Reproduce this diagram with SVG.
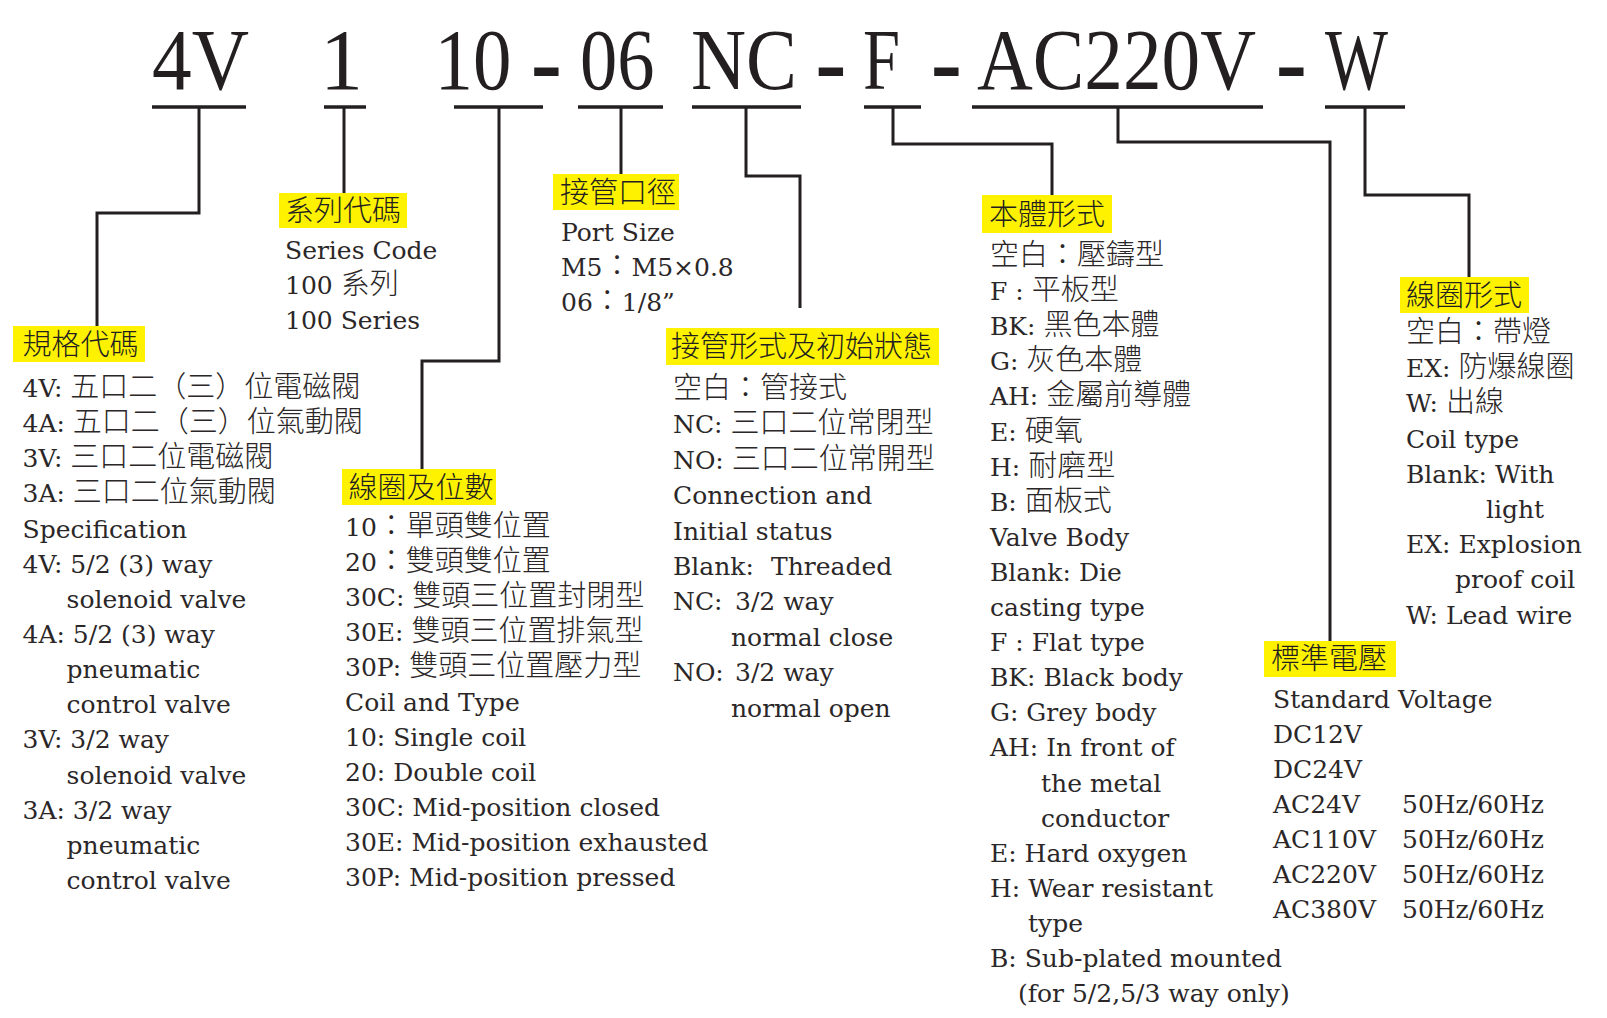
<svg xmlns="http://www.w3.org/2000/svg" width="1607" height="1018" viewBox="0 0 1607 1018">
<style>
.bg{fill:#ffffff}
.ttl{font-family:"Liberation Serif","Times New Roman",serif;font-size:86px;fill:#231f20}
.dash{font-family:"Liberation Serif","Times New Roman",serif;font-size:86px;fill:#231f20;stroke:#231f20;stroke-width:2}
.t{font-family:"DejaVu Serif","Noto Sans CJK TC",serif;font-size:25px;fill:#2b2728}
.c{font-family:"Noto Sans CJK TC","Noto Sans CJK SC",sans-serif;font-size:29px;font-weight:300}
.lbl{font-family:"Noto Sans CJK TC","Noto Sans CJK SC",sans-serif;font-size:29px;font-weight:300;fill:#231f20}
.hl{fill:#fff200}
.ln{fill:none;stroke:#231f20;stroke-width:3}
.ul{fill:none;stroke:#231f20;stroke-width:3.5}
</style>
<rect class="bg" x="0" y="0" width="1607" height="1018"/>

<g id="title">
<text class="ttl" transform="translate(152 89) scale(0.923 1)">4V</text>
<text class="ttl" x="320" y="89">1</text>
<text class="ttl" transform="translate(434.5 89) scale(0.895 1)">10</text>
<text class="dash" x="532" y="92">-</text>
<text class="ttl" transform="translate(580 89) scale(0.866 1)">06</text>
<text class="ttl" transform="translate(691 89) scale(0.887 1)">NC</text>
<text class="dash" x="816.5" y="92">-</text>
<text class="ttl" transform="translate(863 89) scale(0.774 1)">F</text>
<text class="dash" x="932" y="92">-</text>
<text class="ttl" transform="translate(977 89) scale(0.8985 1)">AC220V</text>
<text class="dash" x="1277" y="92">-</text>
<text class="ttl" transform="translate(1325 89) scale(0.776 1)">W</text>
</g>

<g id="connectors">
<line class="ul" x1="152" y1="107" x2="246" y2="107"/>
<line class="ul" x1="324" y1="107" x2="366" y2="107"/>
<line class="ul" x1="454" y1="107" x2="543" y2="107"/>
<line class="ul" x1="578" y1="107" x2="663" y2="107"/>
<line class="ul" x1="692" y1="107" x2="801" y2="107"/>
<line class="ul" x1="864" y1="107" x2="921" y2="107"/>
<line class="ul" x1="972" y1="107" x2="1263" y2="107"/>
<line class="ul" x1="1325" y1="107" x2="1405" y2="107"/>
<path class="ln" d="M199 107 V213 H97 V327"/>
<path class="ln" d="M344 107 V193"/>
<path class="ln" d="M499 107 V361 H422 V470"/>
<path class="ln" d="M621 107 V174"/>
<path class="ln" d="M746 107 V176 H800 V308"/>
<path class="ln" d="M893 107 V144 H1052 V196"/>
<path class="ln" d="M1118 107 V142 H1330 V641"/>
<path class="ln" d="M1365 107 V195 H1469 V277"/>
</g>

<g id="spec">
<rect class="hl" x="13" y="326" width="132" height="36"/>
<text class="lbl" x="22.5" y="355">規格代碼</text>
<text class="t" x="22.5" y="397">4V: <tspan class="c">五口二（三）位電磁閥</tspan></text>
<text class="t" x="22.5" y="432.1">4A: <tspan class="c">五口二（三）位氣動閥</tspan></text>
<text class="t" x="22.5" y="467.3">3V: <tspan class="c">三口二位電磁閥</tspan></text>
<text class="t" x="22.5" y="502.4">3A: <tspan class="c">三口二位氣動閥</tspan></text>
<text class="t" x="22.5" y="537.6">Specification</text>
<text class="t" x="22.5" y="572.7">4V: 5/2 (3) way</text>
<text class="t" x="66.6" y="607.8">solenoid valve</text>
<text class="t" x="22.5" y="643">4A: 5/2 (3) way</text>
<text class="t" x="66.6" y="678.1">pneumatic</text>
<text class="t" x="66.6" y="713.3">control valve</text>
<text class="t" x="22.5" y="748.4">3V: 3/2 way</text>
<text class="t" x="66.6" y="783.5">solenoid valve</text>
<text class="t" x="22.5" y="818.7">3A: 3/2 way</text>
<text class="t" x="66.6" y="853.8">pneumatic</text>
<text class="t" x="66.6" y="889">control valve</text>
</g>

<g id="series">
<rect class="hl" x="279" y="193" width="128" height="35"/>
<text class="lbl" x="285" y="221">系列代碼</text>
<text class="t" x="285" y="259">Series Code</text>
<text class="t" x="285" y="294">100 <tspan class="c">系列</tspan></text>
<text class="t" x="285" y="329">100 Series</text>
</g>

<g id="port">
<rect class="hl" x="553" y="174" width="126" height="36"/>
<text class="lbl" x="560" y="203">接管口徑</text>
<text class="t" x="561" y="241">Port Size</text>
<text class="t" x="561" y="276">M5<tspan class="c">：</tspan>M5×0.8</text>
<text class="t" x="561" y="311">06<tspan class="c">：</tspan>1/8”</text>
</g>

<g id="coil-position">
<rect class="hl" x="342" y="469" width="154" height="36"/>
<text class="lbl" x="348.5" y="498">線圈及位數</text>
<text class="t" x="345" y="536">10<tspan class="c">：單頭雙位置</tspan></text>
<text class="t" x="345" y="571">20<tspan class="c">：雙頭雙位置</tspan></text>
<text class="t" x="345" y="606">30C: <tspan class="c">雙頭三位置封閉型</tspan></text>
<text class="t" x="345" y="641">30E: <tspan class="c">雙頭三位置排氣型</tspan></text>
<text class="t" x="345" y="676">30P: <tspan class="c">雙頭三位置壓力型</tspan></text>
<text class="t" x="345" y="711">Coil and Type</text>
<text class="t" x="345" y="746">10: Single coil</text>
<text class="t" x="345" y="781">20: Double coil</text>
<text class="t" x="345" y="816">30C: Mid-position closed</text>
<text class="t" x="345" y="851">30E: Mid-position exhausted</text>
<text class="t" x="345" y="886">30P: Mid-position pressed</text>
</g>

<g id="connection">
<rect class="hl" x="666" y="328" width="273" height="37"/>
<text class="lbl" x="671" y="357">接管形式及初始狀態</text>
<text class="t" x="673" y="398"><tspan class="c">空白：管接式</tspan></text>
<text class="t" x="673" y="433.4">NC: <tspan class="c">三口二位常閉型</tspan></text>
<text class="t" x="673" y="468.8">NO: <tspan class="c">三口二位常開型</tspan></text>
<text class="t" x="673" y="504.2">Connection and</text>
<text class="t" x="673" y="539.6">Initial status</text>
<text class="t" x="673" y="575">Blank:<tspan x="771">Threaded</tspan></text>
<text class="t" x="673" y="610.4">NC:<tspan x="735">3/2 way</tspan></text>
<text class="t" x="731" y="645.8">normal close</text>
<text class="t" x="673" y="681.2">NO:<tspan x="735">3/2 way</tspan></text>
<text class="t" x="731" y="716.6">normal open</text>
</g>

<g id="body">
<rect class="hl" x="982" y="195" width="130" height="38"/>
<text class="lbl" x="989" y="224.5">本體形式</text>
<text class="t" x="990" y="265"><tspan class="c">空白：壓鑄型</tspan></text>
<text class="t" x="990" y="300.1">F : <tspan class="c">平板型</tspan></text>
<text class="t" x="990" y="335.2">BK: <tspan class="c">黑色本體</tspan></text>
<text class="t" x="990" y="370.3">G: <tspan class="c">灰色本體</tspan></text>
<text class="t" x="990" y="405.4">AH: <tspan class="c">金屬前導體</tspan></text>
<text class="t" x="990" y="440.5">E: <tspan class="c">硬氧</tspan></text>
<text class="t" x="990" y="475.6">H: <tspan class="c">耐磨型</tspan></text>
<text class="t" x="990" y="510.7">B: <tspan class="c">面板式</tspan></text>
<text class="t" x="990" y="545.8">Valve Body</text>
<text class="t" x="990" y="580.9">Blank: Die</text>
<text class="t" x="990" y="616">casting type</text>
<text class="t" x="990" y="651.1">F : Flat type</text>
<text class="t" x="990" y="686.2">BK: Black body</text>
<text class="t" x="990" y="721.3">G: Grey body</text>
<text class="t" x="990" y="756.4">AH: In front of</text>
<text class="t" x="1041" y="791.5">the metal</text>
<text class="t" x="1041" y="826.6">conductor</text>
<text class="t" x="990" y="861.7">E: Hard oxygen</text>
<text class="t" x="990" y="896.8">H: Wear resistant</text>
<text class="t" x="1028" y="931.9">type</text>
<text class="t" x="990" y="967">B: Sub-plated mounted</text>
<text class="t" x="1018" y="1002.1">(for 5/2,5/3 way only)</text>
</g>

<g id="coil-type">
<rect class="hl" x="1400" y="277" width="129" height="36"/>
<text class="lbl" x="1406" y="305.5">線圈形式</text>
<text class="t" x="1406" y="342"><tspan class="c">空白：帶燈</tspan></text>
<text class="t" x="1406" y="377.2">EX: <tspan class="c">防爆線圈</tspan></text>
<text class="t" x="1406" y="412.4">W: <tspan class="c">出線</tspan></text>
<text class="t" x="1406" y="447.6">Coil type</text>
<text class="t" x="1406" y="482.8">Blank: With</text>
<text class="t" x="1486" y="518">light</text>
<text class="t" x="1406" y="553.2">EX: Explosion</text>
<text class="t" x="1455" y="588.4">proof coil</text>
<text class="t" x="1406" y="623.6">W: Lead wire</text>
</g>

<g id="voltage">
<rect class="hl" x="1264" y="641" width="132" height="36"/>
<text class="lbl" x="1271" y="669">標準電壓</text>
<text class="t" x="1273" y="708">Standard Voltage</text>
<text class="t" x="1273" y="743">DC12V</text>
<text class="t" x="1273" y="778">DC24V</text>
<text class="t" x="1273" y="813">AC24V<tspan x="1402">50Hz/60Hz</tspan></text>
<text class="t" x="1273" y="848">AC110V<tspan x="1402">50Hz/60Hz</tspan></text>
<text class="t" x="1273" y="883">AC220V<tspan x="1402">50Hz/60Hz</tspan></text>
<text class="t" x="1273" y="918">AC380V<tspan x="1402">50Hz/60Hz</tspan></text>
</g>
</svg>
